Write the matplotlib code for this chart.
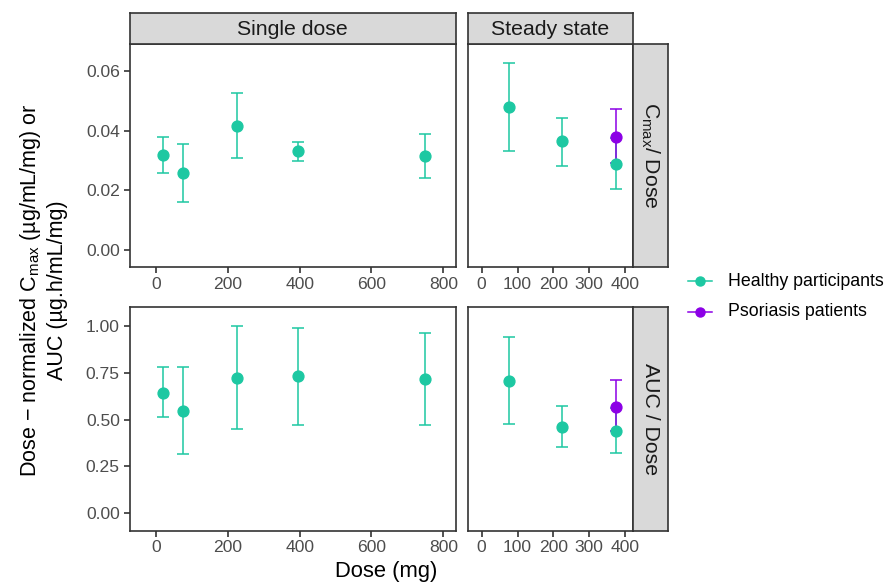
import numpy as np
import matplotlib
matplotlib.use("Agg")
import matplotlib.pyplot as plt

plt.rcParams['font.family'] = ['Liberation Sans', 'DejaVu Sans']
plt.rcParams['mathtext.fontset'] = 'custom'
plt.rcParams['mathtext.rm'] = 'Liberation Sans'
plt.rcParams['mathtext.it'] = 'Liberation Sans:italic'

# datos
single_dose = [20, 75, 225, 395, 750]
single_cmax = [0.0318, 0.0257, 0.0415, 0.0331, 0.0315]
single_cmax_lo = [0.0258, 0.0160, 0.0307, 0.0298, 0.0241]
single_cmax_hi = [0.0379, 0.0354, 0.0525, 0.0363, 0.0389]
single_auc = [0.644, 0.546, 0.723, 0.732, 0.717]
single_auc_lo = [0.511, 0.315, 0.447, 0.473, 0.470]
single_auc_hi = [0.778, 0.778, 1.000, 0.990, 0.961]

ss_dose = [75, 225, 375]
ss_cmax = [0.0480, 0.0366, 0.0289]
ss_cmax_lo = [0.0333, 0.0282, 0.0204]
ss_cmax_hi = [0.0627, 0.0443, 0.0375]
ss_auc = [0.708, 0.459, 0.438]
ss_auc_lo = [0.477, 0.353, 0.321]
ss_auc_hi = [0.942, 0.570, 0.560]

pso_dose = [375]
pso_cmax = [0.0378]
pso_cmax_lo = [0.0292]
pso_cmax_hi = [0.0472]
pso_auc = [0.566]
pso_auc_lo = [0.440]
pso_auc_hi = [0.710]

col_names = ["Single dose", "Steady state"]
row_names = ["C$_{\\mathrm{max}}$/ Dose", "AUC / Dose"]
groups = ["Healthy participants", "Psoriasis patients"]

VERDE = "#1DC8A2"
MORADO = "#8C00E6"
W, H = 890, 585


def rect(x0, y0, x1, y1):
    return [x0 / W, 1 - y1 / H, (x1 - x0) / W, (y1 - y0) / H]


def dibujar(ax, x, y, lo, hi, color):
    y = np.array(y)
    err = [y - np.array(lo), np.array(hi) - y]
    ax.errorbar(x, y, yerr=err, fmt='none', ecolor=color, elinewidth=1.1,
                capsize=4, capthick=1.1, zorder=2)


def tira(ax):
    ax.set_facecolor("#D9D9D9")
    ax.set_xticks([])
    ax.set_yticks([])
    for sp in ax.spines.values():
        sp.set_color("#333333")
        sp.set_linewidth(1.2)


fig = plt.figure(figsize=(W / 100, H / 100), dpi=100)

cols_px = [(129.5, 455.5), (468, 633)]
rows_px = [(44, 267.5), (307, 530.5)]
xlims = [(-73.8, 834), (-38.2, 422.3)]
ylims = [(-0.0059, 0.069), (-0.092, 1.10)]
xticks = [[0, 200, 400, 600, 800], [0, 100, 200, 300, 400]]
yticks = [[0.00, 0.02, 0.04, 0.06], [0.00, 0.25, 0.50, 0.75, 1.00]]
ylabels = [["0.00", "0.02", "0.04", "0.06"], ["0.00", "0.25", "0.50", "0.75", "1.00"]]

datos = {
    (0, 0): [(single_dose, single_cmax, single_cmax_lo, single_cmax_hi, VERDE)],
    (1, 0): [(single_dose, single_auc, single_auc_lo, single_auc_hi, VERDE)],
    (0, 1): [(ss_dose, ss_cmax, ss_cmax_lo, ss_cmax_hi, VERDE),
             (pso_dose, pso_cmax, pso_cmax_lo, pso_cmax_hi, MORADO)],
    (1, 1): [(ss_dose, ss_auc, ss_auc_lo, ss_auc_hi, VERDE),
             (pso_dose, pso_auc, pso_auc_lo, pso_auc_hi, MORADO)],
}

for r in range(2):
    for c in range(2):
        x0, x1 = cols_px[c]
        y0, y1 = rows_px[r]
        ax = fig.add_axes(rect(x0, y0, x1, y1))
        series = datos[(r, c)]
        for s in series:
            dibujar(ax, *s)
        for s in series:
            ax.plot(s[0], s[1], 'o', color=s[4], markersize=7.8, zorder=3)
        ax.set_xlim(*xlims[c])
        ax.set_ylim(*ylims[r])
        ax.set_xticks(xticks[c])
        ax.set_yticks(yticks[r])
        ax.tick_params(colors="#333333", labelcolor="#4D4D4D", labelsize=12.6,
                       length=4, width=1.2, pad=3)
        if c == 0:
            ax.set_yticklabels(ylabels[r])
        else:
            ax.tick_params(axis='y', left=False, labelleft=False)
        for sp in ax.spines.values():
            sp.set_color("#333333")
            sp.set_linewidth(1.2)

        # tiras de las facetas
        if r == 0:
            st = fig.add_axes(rect(x0, 12.7, x1, y0))
            tira(st)
            st.text(0.5, 0.45, col_names[c], ha='center', va='center',
                    fontsize=15.3, color="#1A1A1A", transform=st.transAxes)
        if c == 1:
            st = fig.add_axes(rect(x1, y0, 668, y1))
            tira(st)
            st.text(0.5, 0.5, row_names[r], ha='center', va='center',
                    rotation=-90, fontsize=15.3, color="#1A1A1A",
                    transform=st.transAxes)

# titulos de los ejes
fig.text(386 / W, 1 - 572 / H, "Dose (mg)", ha='center', va='center', fontsize=15.8)
fig.text(43 / W, 1 - 290 / H,
         "Dose − normalized C$_{\\mathrm{max}}$ (µg/mL/mg) or\nAUC (µg.h/mL/mg)",
         ha='center', va='center', rotation=90, fontsize=15.5, linespacing=1.25)

# leyenda
for i, (nombre, color) in enumerate(zip(groups, [VERDE, MORADO])):
    ly = 1 - (281 + i * 31) / H
    fig.add_artist(plt.Line2D([688 / W, 712 / W], [ly, ly], color=color, lw=1.1))
    fig.add_artist(plt.Line2D([700 / W], [ly], marker='o', color=color, markersize=6.5))
    fig.text(728 / W, ly, nombre, ha='left', va='center', fontsize=12.8)

fig.savefig("out.png", dpi=100)
